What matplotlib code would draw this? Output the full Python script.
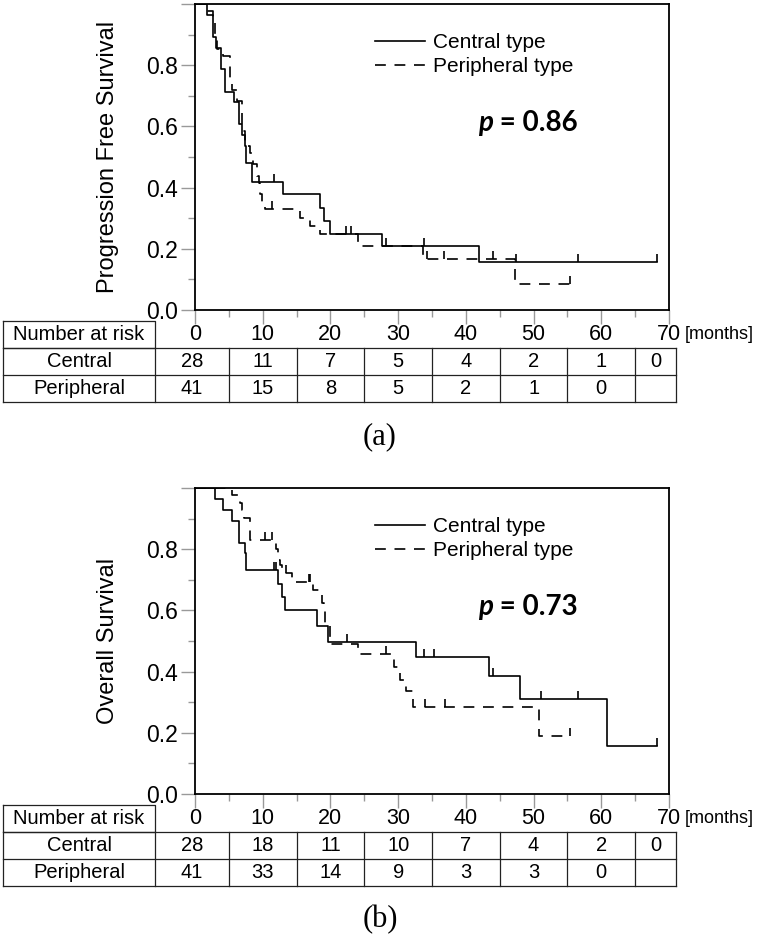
import numpy as np
import matplotlib
matplotlib.use('Agg')
import matplotlib.pyplot as plt
from matplotlib.lines import Line2D
from matplotlib.ticker import MultipleLocator, FixedLocator
from matplotlib.transforms import blended_transform_factory

plt.rcParams['font.family'] = ['Liberation Sans', 'DejaVu Sans']

# ---- data (step start times / survival after the step) ----
# (a) progression free survival
pfs_c_t = [0, 1.8, 2.7, 3.1, 3.8, 4.5, 5.8, 6.5, 6.9, 7.4, 7.6, 8.4, 13.0, 18.4, 19.0, 20.0, 27.6, 42.0]
pfs_c_s = [1.0, 0.964, 0.893, 0.857, 0.786, 0.714, 0.679, 0.607, 0.571, 0.536, 0.482, 0.417, 0.379, 0.333, 0.292, 0.25, 0.208, 0.156]
pfs_c_end = 68.2
pfs_c_cens = [11.6, 22.3, 28.2, 33.8, 47.4, 56.6, 68.2]

pfs_p_t = [0, 1.8, 2.7, 3.0, 3.3, 4.2, 5.1, 5.5, 6.2, 6.9, 7.4, 8.1, 8.6, 9.1, 9.4, 9.6, 9.9, 10.4, 15.5, 17.0, 18.5, 24.1, 33.6, 47.3]
pfs_p_s = [1.0, 0.976, 0.951, 0.902, 0.854, 0.829, 0.756, 0.72, 0.683, 0.585, 0.537, 0.512, 0.476, 0.439, 0.415, 0.378, 0.354, 0.329, 0.30, 0.273, 0.247, 0.21, 0.168, 0.086]
pfs_p_end = 55.4
pfs_p_cens = [11.3, 23.0, 34.2, 36.8, 44.0, 55.4]

# (b) overall survival
os_c_t = [0, 3.0, 4.2, 5.4, 6.55, 7.4, 7.6, 12.2, 12.8, 13.3, 18.0, 19.7, 32.6, 43.4, 48.0, 60.9]
os_c_s = [1.0, 0.964, 0.929, 0.893, 0.821, 0.786, 0.733, 0.687, 0.644, 0.6, 0.549, 0.498, 0.449, 0.386, 0.309, 0.157]
os_c_end = 68.2
os_c_cens = [11.6, 12.0, 22.4, 33.8, 35.3, 44.0, 51.1, 56.6, 68.2]

os_p_t = [0, 5.4, 6.6, 6.9, 7.2, 8.1, 12.0, 12.2, 12.6, 12.8, 14.3, 17.4, 18.7, 19.0, 19.2, 19.9, 24.1, 29.4, 30.3, 31.2, 32.2, 50.8]
os_p_s = [1.0, 0.976, 0.951, 0.927, 0.902, 0.829, 0.80, 0.765, 0.749, 0.722, 0.694, 0.666, 0.623, 0.597, 0.556, 0.49, 0.458, 0.414, 0.373, 0.336, 0.285, 0.19]
os_p_end = 55.4
os_p_cens = [10.3, 11.3, 13.5, 16.8, 17.0, 28.2, 34.0, 36.9, 55.4]

risk_times = [0, 10, 20, 30, 40, 50, 60, 70]
pfs_risk_c = ['28', '11', '7', '5', '4', '2', '1', '0']
pfs_risk_p = ['41', '15', '8', '5', '2', '1', '0', '']
os_risk_c = ['28', '18', '11', '10', '7', '4', '2', '0']
os_risk_p = ['41', '33', '14', '9', '3', '3', '0', '']

W, H = 757, 944
fig = plt.figure(figsize=(W / 100, H / 100), dpi=100)

DASH = (0, (6.5, 5.2))
FS = 14.5


def surv_at(t, s, x):
    i = np.searchsorted(t, x, side='right') - 1
    return np.asarray(s)[i]


def draw_curve(ax, t, s, end, cens, ls):
    x = list(t) + [end]
    y = list(s) + [s[-1]]
    ax.step(x, y, where='post', color='k', lw=1.2, ls=ls)
    ax.plot(cens, surv_at(t, s, cens), ls='none', marker=2, ms=6,
            mew=1.2, color='k')


def panel(top_px, curves, ylabel, pval, risk_c, risk_p, letter, letter_px):
    left, right, height = 195, 669, 306
    ax = fig.add_axes([left / W, 1 - (top_px + height) / H,
                       (right - left) / W, height / H])
    for c in curves:
        draw_curve(ax, *c)
    ax.set_xlim(0, 70)
    ax.set_ylim(0, 1)
    ax.xaxis.set_major_locator(MultipleLocator(10))
    ax.xaxis.set_minor_locator(MultipleLocator(5))
    ax.yaxis.set_major_locator(FixedLocator([0, 0.2, 0.4, 0.6, 0.8, 1.0]))
    ax.yaxis.set_minor_locator(FixedLocator([0.1, 0.3, 0.5, 0.7, 0.9]))
    ax.set_yticklabels(['0.0', '0.2', '0.4', '0.6', '0.8', ''])
    ax.set_xticklabels([])
    ax.tick_params(which='major', direction='out', length=10, width=1,
                   color='#999999', labelsize=16.5, pad=2)
    ax.tick_params(which='minor', direction='out', length=5, width=1,
                   color='#999999')
    for sp in ax.spines.values():
        sp.set_linewidth(1.3)
    ax.set_ylabel(ylabel, fontsize=17)
    ax.yaxis.set_label_coords(-0.16, 0.5)

    handles = [Line2D([], [], color='k', lw=1.2),
               Line2D([], [], color='k', lw=1.2, ls=DASH)]
    ax.legend(handles, ['Central type', 'Peripheral type'], loc='upper left',
              bbox_to_anchor=(0.38, 0.905), frameon=False, fontsize=15,
              handlelength=2.4, handletextpad=0.4, labelspacing=0.25,
              borderpad=0, borderaxespad=0)

    pt = ax.text(0.597, 0.612, 'p', transform=ax.transAxes, fontsize=20,
                 family=['Lato', 'DejaVu Sans'], weight='bold', style='italic',
                 ha='left', va='center')
    ax.annotate(' = ' + pval, xy=(1, 0), xycoords=pt, va='bottom', ha='left',
                fontsize=20, family=['Lato', 'DejaVu Sans'], weight='bold')

    # number-at-risk table under the x axis
    tr = blended_transform_factory(ax.transData, ax.transAxes)
    yy = lambda off: -off / height
    px2m = lambda px: (px - left) * 70 / (right - left)
    x0, x1, x_end = px2m(3), px2m(155), px2m(676)
    rows = [11, 38, 65, 92]
    kw = dict(transform=tr, clip_on=False, color='#222222', lw=0.9)
    ax.plot([x0, x1, x1, x0, x0], [yy(rows[0])] * 2 + [yy(rows[1])] * 2 + [yy(rows[0])], **kw)
    for r in rows[1:]:
        ax.plot([x0, x_end], [yy(r)] * 2, **kw)
    bounds = [x0, x1, 5, 15, 25, 35, 45, 55, 65, x_end]
    for b in bounds:
        ax.plot([b, b], [yy(rows[1]), yy(rows[3])], **kw)
    centers = [(bounds[i + 1] + bounds[i + 2]) / 2 for i in range(8)]
    lab_x = (x0 + x1) / 2
    hy, cy, py = [yy((rows[i] + rows[i + 1]) / 2) for i in range(3)]
    ax.text(lab_x, hy, 'Number at risk', transform=tr, ha='center', va='center', fontsize=FS)
    ax.text(lab_x, cy, 'Central', transform=tr, ha='center', va='center', fontsize=FS)
    ax.text(lab_x, py, 'Peripheral', transform=tr, ha='center', va='center', fontsize=FS)
    for t in risk_times:
        ax.text(t, hy, str(t), transform=tr, ha='center', va='center', fontsize=FS + 1)
    ax.text(px2m(685), hy, '[months]', transform=tr, ha='left', va='center', fontsize=13)
    for xc, vc, vp in zip(centers, risk_c, risk_p):
        ax.text(xc, cy, vc, transform=tr, ha='center', va='center', fontsize=FS)
        ax.text(xc, py, vp, transform=tr, ha='center', va='center', fontsize=FS)

    fig.text(380 / W, 1 - letter_px / H, letter, ha='center', va='center',
             fontsize=22, family=['Liberation Serif', 'DejaVu Serif'])
    return ax


panel(4, [(pfs_c_t, pfs_c_s, pfs_c_end, pfs_c_cens, '-'),
          (pfs_p_t, pfs_p_s, pfs_p_end, pfs_p_cens, DASH)],
      'Progression Free Survival', '0.86', pfs_risk_c, pfs_risk_p, '(a)', 437)
panel(488, [(os_c_t, os_c_s, os_c_end, os_c_cens, '-'),
            (os_p_t, os_p_s, os_p_end, os_p_cens, DASH)],
      'Overall Survival', '0.73', os_risk_c, os_risk_p, '(b)', 920)

fig.savefig('out.png', dpi=100)
